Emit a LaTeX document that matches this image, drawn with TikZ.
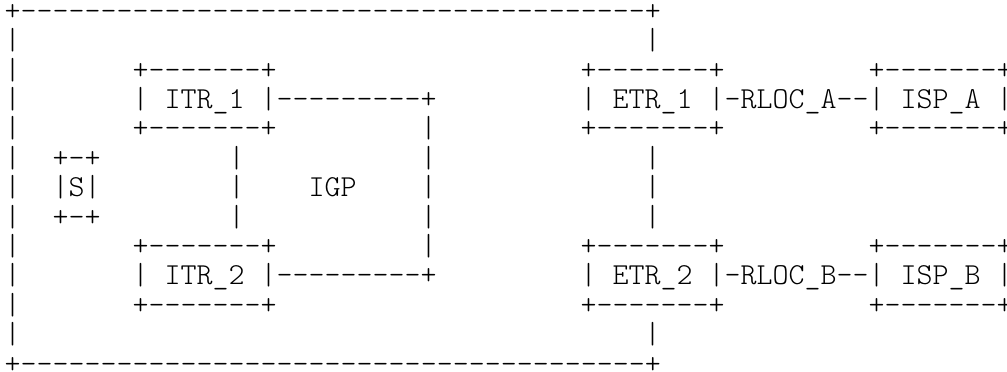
\documentclass[tikz,border=0pt]{standalone}
\usepackage{fontspec}
\tikzset{asc/.style={anchor=base west,inner sep=0pt,outer sep=0pt,text=black,
  font=\fontseries{l}\ttfamily\fontsize{30.48}{29.4}\selectfont}}
\newcommand\gridtext[4]{\node[asc] (#1) at ({4.7+16*(#2)},{351.7-29.4*(#3)}) {#4};}
\begin{document}
\begin{tikzpicture}[x=1pt,y=1pt]
\useasboundingbox (0,0) rectangle (1007,372);
% outer frame
\gridtext{frametop}{0}{0}{+---------------------------------------+}
\foreach \r in {1,...,11}{\gridtext{frameleft\r}{0}{\r}{|}}
\gridtext{framer1}{40}{1}{|}
\gridtext{framer11}{40}{11}{|}
\gridtext{framebot}{0}{12}{+---------------------------------------+}
% ITR_1
\gridtext{itrAt}{8}{2}{+-------+}
\gridtext{itrA}{8}{3}{| ITR\_1 |}
\gridtext{itrAb}{8}{4}{+-------+}
% ITR_2
\gridtext{itrBt}{8}{8}{+-------+}
\gridtext{itrB}{8}{9}{| ITR\_2 |}
\gridtext{itrBb}{8}{10}{+-------+}
% IGP links
\gridtext{igpA}{17}{3}{---------+}
\gridtext{igpB}{17}{9}{---------+}
\foreach \r in {4,...,8}{\gridtext{igpv\r}{26}{\r}{|}}
\gridtext{igp}{19}{6}{IGP}
\foreach \r in {5,6,7}{\gridtext{itrv\r}{14}{\r}{|}}
% S
\gridtext{st}{3}{5}{+-+}
\gridtext{s}{3}{6}{|S|}
\gridtext{sb}{3}{7}{+-+}
% ETR_1
\gridtext{etrAt}{36}{2}{+-------+}
\gridtext{etrA}{36}{3}{| ETR\_1 |}
\gridtext{etrAb}{36}{4}{+-------+}
% ETR_2
\gridtext{etrBt}{36}{8}{+-------+}
\gridtext{etrB}{36}{9}{| ETR\_2 |}
\gridtext{etrBb}{36}{10}{+-------+}
\foreach \r in {5,6,7}{\gridtext{etrv\r}{40}{\r}{|}}
% RLOC links
\gridtext{rlocA}{45}{3}{-RLOC\_A--}
\gridtext{rlocB}{45}{9}{-RLOC\_B--}
% ISP_A
\gridtext{ispAt}{54}{2}{+-------+}
\gridtext{ispA}{54}{3}{| ISP\_A |}
\gridtext{ispAb}{54}{4}{+-------+}
% ISP_B
\gridtext{ispBt}{54}{8}{+-------+}
\gridtext{ispB}{54}{9}{| ISP\_B |}
\gridtext{ispBb}{54}{10}{+-------+}
\end{tikzpicture}
\end{document}
